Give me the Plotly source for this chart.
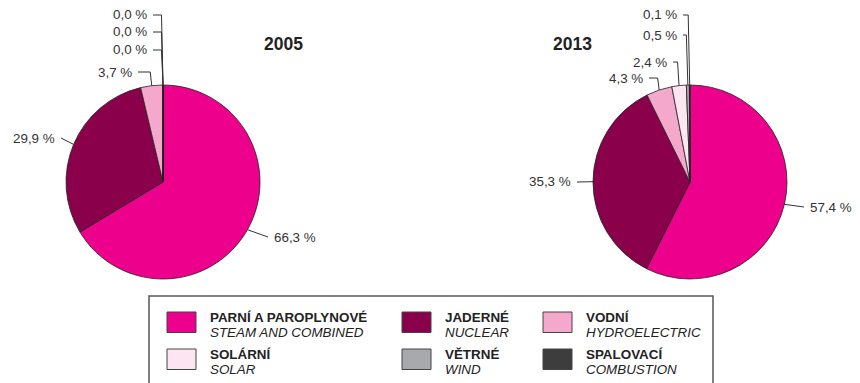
import math
import plotly.graph_objects as go

# Source categories (Czech name, English name) and colours
names_cz = ["PARNÍ A PAROPLYNOVÉ", "JADERNÉ", "VODNÍ", "SOLÁRNÍ", "VĚTRNÉ", "SPALOVACÍ"]
names_en = ["STEAM AND COMBINED", "NUCLEAR", "HYDROELECTRIC", "SOLAR", "WIND", "COMBUSTION"]
colors = ["#EC008C", "#8B004B", "#F4A8CB", "#FDE6F0", "#A7A9AC", "#3D3D3D"]

# Share of installed capacity, %
share_2005 = [66.3, 29.9, 3.7, 0.0, 0.0, 0.0]
share_2013 = [57.4, 35.3, 4.3, 2.4, 0.5, 0.1]
years = ["2005", "2013"]

W, H = 860, 383
FONT = "Liberation Sans, Arial, sans-serif"
TXT = "#333333"


def px(x):
    return x / W


def py(y):
    return 1 - y / H


# Pie geometry in pixels (centre x, centre y, radius)
pies = [(163, 182, 97), (690, 182, 97)]

# Label placement for each slice: (side, text x, text y, leader kind)
label_pos_2005 = [("l", 272, 237, "side"), ("r", 57, 138, "side"), ("r", 134, 72, "top"),
                  ("r", 149, 50, "top"), ("r", 149, 32, "top"), ("r", 149, 15, "top")]
label_pos_2013 = [("l", 808, 207, "side"), ("r", 573, 182, "side"), ("r", 645, 78, "top"),
                  ("r", 669, 62, "top"), ("r", 679, 35, "top"), ("r", 679, 15, "top")]

fig = go.Figure()
shapes = []
annotations = []

for (cx, cy, r), values, year, lpos in zip(pies, [share_2005, share_2013], years,
                                            [label_pos_2005, label_pos_2013]):
    fig.add_trace(go.Pie(
        values=values,
        labels=names_en,
        marker=dict(colors=colors, line=dict(color="#222222", width=0.8)),
        sort=False,
        direction="clockwise",
        rotation=0,
        textinfo="none",
        hoverinfo="label+percent",
        showlegend=False,
        domain=dict(x=[px(cx - r), px(cx + r)], y=[py(cy + r), py(cy - r)]),
    ))

    total = sum(values)
    cum = 0.0
    for v, (side, tx, ty, kind) in zip(values, lpos):
        mid = (cum + v / 2) / total * 360.0
        cum += v
        ang = math.radians(mid)
        ax = cx + r * math.sin(ang)
        ay = cy - r * math.cos(ang)
        text = f"{v:.1f}".replace(".", ",") + " %"
        annotations.append(dict(
            x=px(tx), y=py(ty), xref="paper", yref="paper", text=text, showarrow=False,
            xanchor="right" if side == "r" else "left", yanchor="middle",
            font=dict(family=FONT, size=13.4, color=TXT)))
        gap = 4
        start_x = tx + gap if side == "r" else tx - gap
        if kind == "top":
            ex = ax - 1.5
            path = f"M {px(start_x)} {py(ty)} L {px(ex)} {py(ty)} L {px(ax)} {py(ay)}"
        else:
            path = f"M {px(start_x)} {py(ty)} L {px(ax)} {py(ay)}"
        shapes.append(dict(type="path", path=path, xref="paper", yref="paper",
                           line=dict(color="#333333", width=1)))

# Year titles
for year, (x, y) in zip(years, [(283, 44), (572, 44)]):
    annotations.append(dict(x=px(x), y=py(y), xref="paper", yref="paper", text=f"<b>{year}</b>",
                            showarrow=False, xanchor="center", yanchor="middle",
                            font=dict(family=FONT, size=17.5, color="#222222")))

# Legend frame
shapes.append(dict(type="rect", xref="paper", yref="paper",
                   x0=px(149), x1=px(713), y0=py(400), y1=py(296),
                   line=dict(color="#555555", width=1.5), fillcolor="rgba(0,0,0,0)"))

# Legend entries: swatch + two-line caption (line pitch set by the base font size)
col_text_x = [208, 443, 584]
row_top_y = [312, 349]
for i, (cz, en, col) in enumerate(zip(names_cz, names_en, colors)):
    row, c = divmod(i, 3)
    tx = col_text_x[c]
    top = row_top_y[row]
    shapes.append(dict(type="rect", xref="paper", yref="paper",
                       x0=px(tx - 41), x1=px(tx - 12), y0=py(top + 20.5), y1=py(top),
                       line=dict(color="#444444", width=1), fillcolor=col))
    caption = (f"<span style='font-size:13.4px'><b>{cz}</b></span><br>"
               f"<span style='font-size:13.4px'><i>{en}</i></span>")
    annotations.append(dict(x=px(tx), y=py(top + 13), xref="paper", yref="paper",
                            text=caption, showarrow=False, xanchor="left", align="left",
                            yanchor="middle", font=dict(family=FONT, size=11.3, color="#222222")))

fig.update_layout(
    width=W, height=H,
    margin=dict(l=0, r=0, t=0, b=0),
    paper_bgcolor="white", plot_bgcolor="white",
    shapes=shapes, annotations=annotations,
    font=dict(family=FONT, color=TXT),
)

fig.write_html("out.html")
